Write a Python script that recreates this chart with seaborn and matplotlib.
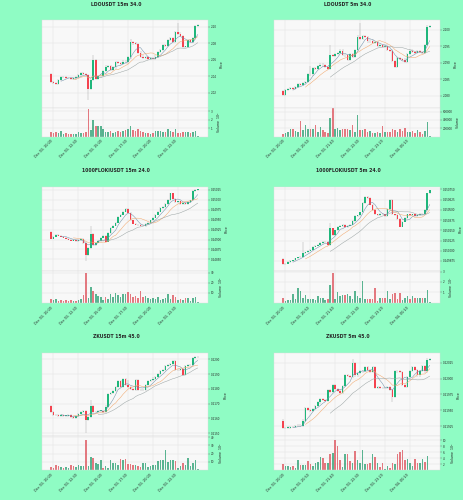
import numpy as np
import pandas as pd
import seaborn as sns
import matplotlib
matplotlib.use("Agg")
import matplotlib.pyplot as plt

BG = '#8ffcc4'
UP = '#1fb67b'
DOWN = '#f4434f'
MA_COLORS = ['#6f8fa8', '#f2a66a', '#9aa3a3']
MA_WINDOWS = [5, 10, 20]

titles = ['LDOUSDT 15m 34.0', 'LDOUSDT 5m 34.0',
          '1000FLOKIUSDT 15m 24.0', '1000FLOKIUSDT 5m 24.0',
          'ZKUSDT 15m 45.0', 'ZKUSDT 5m 45.0']

# candle paths: level at each candle boundary, in price-tick steps above the lowest tick
ldo15_path = [1.15, 0.68, 0.60, 0.55, 0.78, 0.95, 0.98, 0.92, 0.90, 0.85,
              0.88, 0.95, 1.10, 1.20, 1.15, 1.10, 0.22, 0.78, 2.00, 0.85,
              1.00, 1.05, 1.35, 1.60, 1.62, 1.40, 1.55, 1.85, 1.80, 1.75,
              1.90, 1.85, 2.15, 3.10, 3.00, 2.95, 2.45, 2.20, 2.10, 2.15,
              2.05, 2.10, 2.05, 2.20, 2.50, 2.60, 2.90, 2.85, 3.20, 3.30,
              3.10, 3.70, 3.60, 3.45, 2.80, 2.80, 3.20, 3.10, 3.30, 4.05,
              4.10]
ldo5_path = [0.30, 0.05, 0.35, 0.40, 0.50, 0.45, 0.55, 0.70, 0.65, 0.80,
             0.85, 1.35, 1.30, 1.70, 1.65, 1.80, 1.90, 1.85, 1.75, 1.65,
             2.50, 2.40, 2.55, 2.60, 2.75, 2.50, 2.45, 2.20, 2.55, 2.35,
             2.80, 3.60, 3.45, 3.65, 3.55, 3.30, 3.35, 3.20, 3.25, 3.05,
             3.10, 2.95, 3.05, 2.80, 2.75, 2.10, 1.75, 2.30, 2.25, 2.20,
             2.05, 2.55, 2.75, 2.65, 2.60, 2.70, 2.65, 2.60, 3.10, 4.20,
             4.25]
floki15_path = [2.77, 2.10, 2.30, 2.45, 2.40, 2.30, 2.20, 2.10, 2.00, 1.90,
                1.95, 1.85, 2.00, 2.05, 1.67, 0.43, 1.15, 2.60, 1.45, 1.70,
                1.85, 2.20, 2.40, 1.80, 2.65, 3.20, 3.40, 3.70, 4.30, 4.50,
                4.80, 5.07, 4.70, 3.95, 3.60, 3.50, 3.45, 3.40, 3.35, 3.55,
                3.70, 3.95, 4.20, 4.50, 4.80, 5.20, 5.30, 5.60, 6.00, 6.67,
                6.10, 5.80, 5.85, 5.60, 5.70, 5.55, 5.80, 5.95, 6.90, 7.00,
                7.05]
floki5_path = [0.20, -0.30, -0.25, -0.10, 0.00, 0.05, 0.25, 0.35, 0.40, 0.75,
               0.85, 1.00, 1.10, 1.40, 1.50, 1.60, 1.75, 1.85, 1.90, 1.55,
               3.20, 2.55, 3.00, 3.35, 3.40, 3.50, 3.30, 3.45, 3.55, 3.90,
               4.40, 4.45, 4.75, 5.65, 6.30, 6.15, 5.50, 5.00, 4.55, 4.50,
               4.60, 4.55, 4.35, 5.10, 6.00, 4.55, 4.50, 4.10, 3.35, 3.85,
               4.20, 4.55, 4.50, 4.55, 4.40, 4.45, 4.60, 4.55, 5.00, 6.60,
               6.90]
zk15_path = [1.84, 1.45, 1.25, 1.20, 1.18, 1.20, 1.17, 1.18, 1.20, 1.10,
             1.00, 1.15, 1.30, 1.45, 1.50, 0.90, 1.08, 1.84, 1.40, 1.45,
             1.50, 1.52, 1.45, 1.80, 2.66, 2.70, 2.85, 3.10, 3.50, 3.15,
             3.66, 3.25, 3.10, 3.00, 2.90, 3.60, 2.95, 2.90, 2.95, 3.25,
             3.50, 3.60, 3.70, 3.80, 4.00, 4.20, 4.30, 4.55, 4.60, 4.70,
             4.86, 4.25, 4.30, 4.34, 3.95, 4.57, 4.60, 4.62, 5.10, 5.15,
             5.18]
zk5_path = [0.36, -0.12, -0.10, -0.08, -0.05, -0.06, 0.00, 0.05, 0.00, 0.36,
            1.13, 1.03, 0.98, 1.10, 1.28, 1.50, 1.70, 1.65, 1.60, 2.30,
            2.15, 2.60, 2.35, 2.25, 2.10, 2.55, 3.20, 3.15, 3.10, 3.96,
            3.20, 3.35, 3.45, 3.50, 3.70, 3.55, 3.40, 3.75, 2.40, 2.45,
            2.42, 2.40, 2.42, 2.45, 2.30, 1.86, 3.50, 3.45, 3.40, 2.60,
            2.50, 3.10, 3.50, 3.70, 3.55, 3.20, 3.50, 3.80, 3.45, 4.20,
            4.25]

# long wicks: (candle, extra up, extra down)
ldo15_wicks = [(15, 0, 0.6), (17, 0.2, 0), (32, 0.1, 0), (51, 0.45, 0)]
ldo5_wicks = [(19, 0.5, 0), (31, 0.75, 0), (11, 0.4, 0)]
floki15_wicks = [(14, 0, 0.5), (16, 0.7, 0)]
floki5_wicks = [(8, 1.0, 0), (19, 0.4, 0)]
zk15_wicks = [(14, 0, 0.8), (16, 0.35, 0), (31, 0.25, 0)]
zk5_wicks = [(44, 0, 0.25), (28, 0.2, 0)]

ldo15_vol = [0.55, 0.45, 0.50, 0.45, 0.60, 0.35, 0.40, 0.30, 0.35, 0.30,
             0.35, 0.50, 0.45, 0.40, 0.50, 3.30, 0.80, 2.00, 1.20, 1.25,
             1.30, 0.90, 0.50, 0.55, 0.60, 0.45, 0.55, 0.60, 0.50, 0.70,
             0.75, 0.95, 1.20, 0.80, 0.70, 0.85, 0.60, 0.50, 0.40, 0.45,
             0.35, 0.40, 0.70, 0.70, 0.65, 0.55, 0.50, 0.85, 0.60, 0.55,
             0.85, 0.45, 0.40, 0.55, 0.50, 0.55, 0.45, 0.50, 0.60, 0.05]
ldo5_vol = [50000, 80000, 120000, 170000, 180000, 130000, 110000, 370000, 150000, 290000,
            180000, 180000, 170000, 280000, 120000, 220000, 150000, 110000, 90000, 460000,
            680000, 180000, 210000, 160000, 170000, 170000, 190000, 160000, 290000, 110000,
            510000, 150000, 160000, 190000, 110000, 130000, 80000, 90000, 120000, 90000,
            250000, 110000, 100000, 110000, 180000, 160000, 120000, 170000, 140000, 200000,
            120000, 100000, 130000, 90000, 150000, 110000, 70000, 130000, 360000, 10000]
floki15_vol = [4, 3, 4, 2, 3, 2, 3, 2, 3, 2,
               2, 3, 4, 8, 30, 5, 16, 12, 9, 7,
               6, 3, 6, 4, 9, 6, 10, 8, 6, 9,
               9, 11, 9, 6, 7, 5, 12, 6, 7, 5,
               4, 5, 4, 6, 3, 4, 5, 9, 4, 8,
               6, 3, 4, 3, 5, 5, 2, 5, 6, 1]
floki5_vol = [0.45, 0.2, 0.25, 0.3, 0.8, 0.35, 1.4, 1.1, 0.5, 0.7,
              0.35, 0.35, 0.4, 0.3, 0.6, 0.5, 0.5, 0.25, 0.4, 1.7,
              2.9, 0.35, 1.0, 0.6, 0.7, 0.7, 0.8, 0.6, 0.4, 1.1,
              0.6, 0.5, 2.1, 0.4, 0.4, 0.4, 0.4, 1.4, 0.2, 0.5,
              0.5, 0.45, 1.1, 0.4, 0.85, 0.9, 0.4, 0.9, 0.3, 0.5,
              0.6, 0.4, 0.6, 0.45, 0.5, 0.5, 0.45, 0.5, 1.2, 0.05]
zk15_vol = [4, 3, 6, 5, 4, 2, 4, 3, 6, 5,
            4, 6, 5, 5, 37, 5, 16, 15, 9, 7,
            12, 3, 5, 3, 12, 9, 9, 6, 13, 12,
            13, 7, 7, 6, 6, 5, 4, 9, 9, 4,
            5, 6, 6, 11, 12, 12, 24, 10, 12, 12,
            11, 3, 5, 9, 6, 15, 5, 9, 12, 1]
zk5_vol = [2.0, 1.5, 1.3, 1.0, 1.5, 0.8, 3.3, 1.8, 1.6, 1.8,
           3.0, 2.0, 1.2, 2.2, 2.6, 4.3, 4.0, 2.3, 2.5, 5.4,
           5.8, 10.2, 7.9, 3.5, 1.0, 5.2, 5.5, 3.0, 2.5, 6.5,
           3.3, 2.5, 6.7, 2.0, 2.0, 2.5, 5.4, 4.5, 2.5, 1.0,
           2.2, 0.5, 1.2, 0.8, 2.5, 2.0, 5.2, 6.0, 6.8, 3.5,
           3.8, 2.3, 1.5, 3.7, 2.3, 2.2, 3.6, 2.6, 4.8, 0.1]

ldo15_prices = ['2.02', '2.04', '2.06', '2.08', '2.10']
ldo5_prices = ['2.080', '2.085', '2.090', '2.095', '2.100']
floki15_prices = ['0.24850', '0.24875', '0.24900', '0.24925', '0.24950', '0.24975', '0.25000', '0.25025']
floki5_prices = ['0.249875', '0.250000', '0.250125', '0.250250', '0.250375', '0.250500', '0.250625', '0.250750']
zk15_prices = ['0.2150', '0.2160', '0.2170', '0.2180', '0.2190', '0.2200']
zk5_prices = ['0.21925', '0.21950', '0.21975', '0.22000', '0.22025']

vol_ticks = [[1, 2, 3], [200000, 400000, 600000], [10, 20, 30],
             [1, 2, 3], [10, 20, 30, 40], [2, 4, 6, 8, 10]]
vol_labels = ['Volume  $10^{6}$', 'Volume', 'Volume  $10^{6}$',
              'Volume  $10^{7}$', 'Volume  $10^{6}$', 'Volume  $10^{6}$']

times_15m = ['Dec 03, 10:00', 'Dec 03, 12:30', 'Dec 03, 15:00',
             'Dec 03, 17:30', 'Dec 03, 20:00', 'Dec 03, 22:30']
times_5m = ['Dec 03, 20:00', 'Dec 03, 20:50', 'Dec 03, 21:40',
            'Dec 03, 22:30', 'Dec 03, 23:20', 'Dec 04, 00:10']

paths = [ldo15_path, ldo5_path, floki15_path, floki5_path, zk15_path, zk5_path]
wicks = [ldo15_wicks, ldo5_wicks, floki15_wicks, floki5_wicks, zk15_wicks, zk5_wicks]
vols = [ldo15_vol, ldo5_vol, floki15_vol, floki5_vol, zk15_vol, zk5_vol]
prices = [ldo15_prices, ldo5_prices, floki15_prices, floki5_prices, zk15_prices, zk5_prices]
times = [times_15m, times_5m] * 3

# layout (pixels)
W, H = 464, 500
ROWS = [(20, 108, 136.5), (186.7, 271, 302.7), (353.3, 436, 470)]
TITLE_Y = [5, 170, 336]
price_ylim = [(-0.91, 4.42), (-0.73, 4.6), (-1.17, 7.33),
              (-0.98, 7.26), (-0.2, 5.41), (-0.61, 4.59)]
vol_ylim = [(0, 3.4), (0, 690000), (0, 32), (0, 3.06), (0, 41.6), (0, 11.4)]

sns.set_theme(style='whitegrid')
plt.rcParams['font.family'] = ['DejaVu Sans']

fig = plt.figure(figsize=(W / 100, H / 100), dpi=100, facecolor=BG)


def box(x0, y0, x1, y1):
    return [x0 / W, 1 - y1 / H, (x1 - x0) / W, (y1 - y0) / H]


def style(ax):
    ax.set_facecolor('#f8f8f8')
    ax.yaxis.tick_right()
    ax.yaxis.set_label_position('right')
    ax.grid(True, color='#e3e3e3', lw=0.35)
    ax.tick_params(labelsize=2.0, length=1.2, width=0.3, pad=1, color='#666666')
    for s in ax.spines.values():
        s.set_color('#dddddd')
        s.set_linewidth(0.3)


for k in range(6):
    r, c = divmod(k, 2)
    top, mid, bot = ROWS[r]
    left = 42 + 232 * c
    axp = fig.add_axes(box(left, top, left + 166, mid))
    axv = fig.add_axes(box(left, mid, left + 166, bot), sharex=axp)
    style(axp)
    style(axv)

    path = np.array(paths[k])
    vol = np.array(vols[k], dtype=float)
    assert len(path) == len(vol) + 1
    o, cl = path[:-1], path[1:]
    n = len(o)
    x = np.arange(n)
    up = cl >= o
    hi = np.maximum(o, cl) + 0.07
    lo = np.minimum(o, cl) - 0.07
    for i, du, dd in wicks[k]:
        hi[i] += du
        lo[i] -= dd

    axp.vlines(x, lo, hi, color='#a0a0a0', lw=0.3, zorder=2)
    axp.bar(x, np.maximum(np.abs(cl - o), 0.03), bottom=np.minimum(o, cl),
            width=0.65, color=np.where(up, UP, DOWN), lw=0, zorder=3)

    close = pd.Series(cl)
    for w, col in zip(MA_WINDOWS, MA_COLORS):
        ma = pd.DataFrame({'x': x, 'y': close.rolling(w).mean()}).dropna()
        sns.lineplot(data=ma, x='x', y='y', ax=axp, color=col, lw=0.35, zorder=4)

    dv = pd.DataFrame({'i': x, 'v': vol, 'd': np.where(up, 'up', 'down')})
    sns.barplot(data=dv, x='i', y='v', hue='d', palette={'up': UP, 'down': DOWN},
                native_scale=True, dodge=False, width=0.62, errorbar=None,
                legend=False, ax=axv, alpha=0.8, linewidth=0)

    axp.set_xlim(-3.6, n - 1 + 4.1)
    axp.set_ylim(*price_ylim[k])
    axp.set_yticks(range(len(prices[k])))
    axp.set_yticklabels(prices[k])
    axp.set_ylabel('Price', fontsize=2.3, labelpad=2)
    axp.set_xlabel('')
    axp.tick_params(axis='x', labelbottom=False, length=0)

    axv.set_ylim(*vol_ylim[k])
    axv.set_yticks(vol_ticks[k])
    axv.set_yticklabels([str(t) for t in vol_ticks[k]])
    axv.set_ylabel(vol_labels[k], fontsize=2.3, labelpad=2)
    axv.set_xticks(range(1, n, 10))
    axv.set_xticklabels(times[k], rotation=45, ha='right', fontsize=2.4)
    axv.set_xlabel('')

    fig.text((116 + 232 * c) / W, 1 - TITLE_Y[r] / H, titles[k],
             ha='center', va='center', fontsize=3.3, fontweight='bold')

fig.savefig('out.png', dpi=100, facecolor=BG)
